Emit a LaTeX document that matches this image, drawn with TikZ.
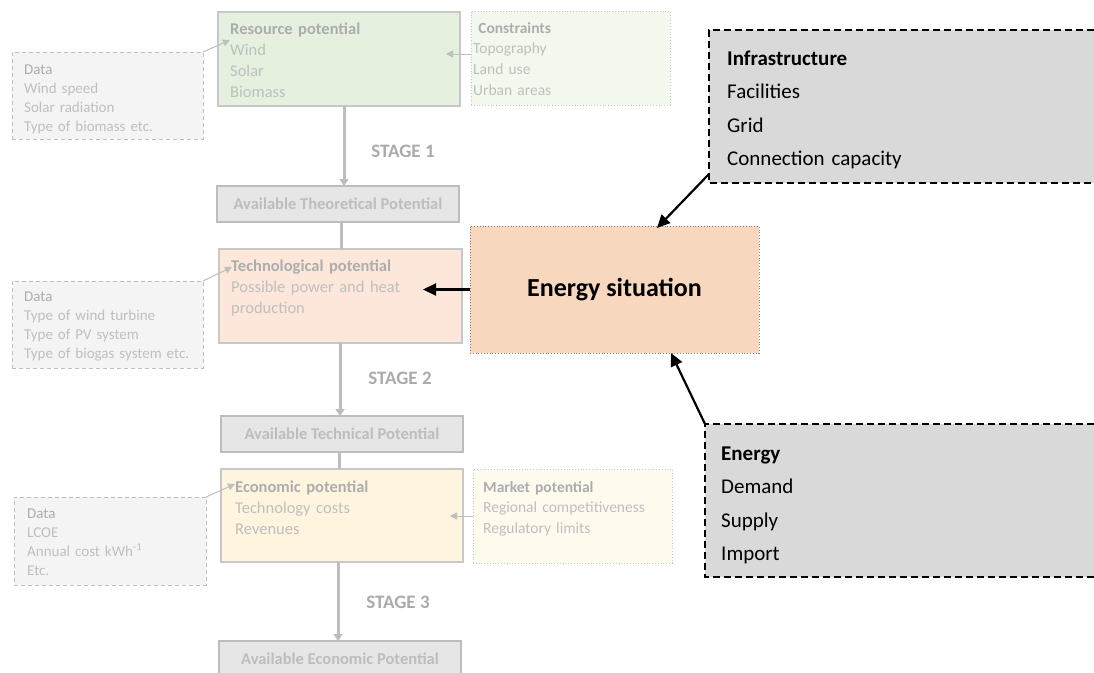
\documentclass[tikz,border=0pt]{standalone}
\usepackage{fontspec}
\setmainfont{Carlito}
\usetikzlibrary{arrows.meta}

\definecolor{headgray}{HTML}{ADADAD}
\definecolor{bodygray}{HTML}{BFBFBF}
\definecolor{stagegray}{HTML}{ABABAB}
\definecolor{edgegray}{HTML}{C8C8C8}
\definecolor{flowgray}{HTML}{BDBDBD}
\definecolor{resfill}{HTML}{E5F0DE}
\definecolor{consfill}{HTML}{F3F8EF}
\definecolor{techfill}{HTML}{FCE7DA}
\definecolor{sitfill}{HTML}{F8D7BF}
\definecolor{econfill}{HTML}{FFF5DF}
\definecolor{mktfill}{HTML}{FFFAEE}
\definecolor{datafill}{HTML}{F4F4F4}
\definecolor{availfill}{HTML}{E6E6E6}
\definecolor{infofill}{HTML}{D9D9D9}

\tikzset{
  box/.style={anchor=north west, inner sep=0pt, outer sep=0pt},
  stagebox/.style={box, draw=edgegray, line width=1.3pt},
  sidebox/.style={box, draw=edgegray, line width=0.8pt, dotted},
  databox/.style={box, fill=datafill, draw=bodygray, line width=0.9pt, dash pattern=on 4pt off 3pt},
  availbox/.style={box, fill=availfill, draw=flowgray, line width=2.5pt},
  infobox/.style={box, fill=infofill},
  infoedge/.style={draw=black, line width=1.3pt, dash pattern=on 7pt off 4pt},
  txt/.style={anchor=base west, inner sep=0pt, align=left, text width=#1},
  txt/.default=230pt,
  maintxt/.style={txt, font=\fontsize{16.5}{21}\selectfont, text=bodygray},
  sidetxt/.style={txt, font=\fontsize{15.5}{20.8}\selectfont, text=bodygray},
  datatxt/.style={txt, font=\fontsize{15}{19}\selectfont, text=bodygray},
  infotxt/.style={txt=360pt, font=\fontsize{21}{33.5}\selectfont, text=black},
  stagelbl/.style={font=\fontsize{19}{22}\selectfont\bfseries, text=stagegray, inner sep=0pt},
  availtxt/.style={font=\fontsize{16.5}{20}\selectfont\bfseries, text=flowgray, inner sep=0pt},
  flow/.style={draw=flowgray, line width=3pt},
  flowarrow/.style={flow, -{Triangle[length=7pt,width=9pt]}},
  thinarrow/.style={draw=bodygray, line width=1pt, -{Triangle[length=7pt,width=7pt]}},
  blackarrow/.style={draw=black, line width=2.2pt, -{Triangle[length=13pt,width=12pt]}},
}

\begin{document}
\begin{tikzpicture}[x=1pt, y=-1pt]
  \useasboundingbox (0,0) rectangle (1094,672);
  \clip (0,0) rectangle (1094,672);
  \fill[white] (0,0) rectangle (1094,672);

  % main chain of potentials
  \node[stagebox, fill=resfill, minimum width=242pt, minimum height=94pt] (res) at (218,12) {};
  \node[availbox, minimum width=242pt, minimum height=36pt] (avt) at (217,186) {};
  \node[stagebox, fill=techfill, minimum width=243pt, minimum height=94pt] (tech) at (219,249) {};
  \node[availbox, minimum width=242pt, minimum height=36pt] (avtech) at (221,416) {};
  \node[stagebox, fill=econfill, minimum width=242pt, minimum height=93pt] (econ) at (221,469) {};
  \node[availbox, minimum width=242pt, minimum height=37pt] (avecon) at (219,641) {};

  % side boxes
  \node[sidebox, fill=consfill, minimum width=199pt, minimum height=94pt] (cons) at (471,11) {};
  \node[sidebox, fill=mktfill, minimum width=199pt, minimum height=94pt] (mkt) at (473,469) {};
  \node[databox, minimum width=191pt, minimum height=87pt] (data1) at (12,52) {};
  \node[databox, minimum width=191pt, minimum height=87pt] (data2) at (12,281) {};
  \node[databox, minimum width=192pt, minimum height=88pt] (data3) at (14,497) {};

  % energy situation and its inputs (the grey boxes run past the right edge)
  \node[box, fill=sitfill, draw=gray, line width=0.8pt, dotted, minimum width=289pt, minimum height=127pt] (sit) at (470,226) {};
  \node[font=\fontsize{26}{30}\selectfont\bfseries, inner sep=0pt] (sitlbl) at (sit.center) {Energy situation};
  \node[infobox, minimum width=385pt, minimum height=153pt] (infra) at (709,30) {};
  \node[infobox, minimum width=389pt, minimum height=153pt] (enrg) at (705,424) {};
  \draw[infoedge] (infra.north east) -- (infra.north west) -- (infra.south west) -- (infra.south east);
  \draw[infoedge] (enrg.north east) -- (enrg.north west) -- (enrg.south west) -- (enrg.south east);

  % texts
  \node[maintxt] (restxt) at (230,34) {\textcolor{headgray}{\bfseries Resource potential}\\Wind\\Solar\\Biomass};
  \node[maintxt] (techtxt) at (231,271) {\textcolor{headgray}{\bfseries Technological potential}\\Possible power and heat\\production};
  \node[maintxt] (econtxt) at (235,492) {\textcolor{headgray}{\bfseries Economic potential}\\Technology costs\\Revenues};
  \node[sidetxt, txt=195pt] (constxt) at (473,33) {\textcolor{headgray}{\bfseries\ Constraints}\\Topography\\Land use\\Urban areas};
  \node[sidetxt, txt=195pt] (mkttxt) at (483,492) {\textcolor{headgray}{\bfseries Market potential}\\Regional competitiveness\\Regulatory limits};
  \node[datatxt, txt=180pt] (d1txt) at (24,74) {\textcolor{headgray}{Data}\\Wind speed\\Solar radiation\\Type of biomass etc.};
  \node[datatxt, txt=180pt] (d2txt) at (24,301) {\textcolor{headgray}{Data}\\Type of wind turbine\\Type of PV system\\Type of biogas system etc.};
  \node[datatxt, txt=180pt] (d3txt) at (27,518) {\textcolor{headgray}{Data}\\LCOE\\Annual cost kWh\textsuperscript{-1}\\Etc.};
  \node[infotxt] (infratxt) at (727,65) {\textbf{Infrastructure}\\Facilities\\Grid\\Connection capacity};
  \node[infotxt] (enrgtxt) at (721,460) {\textbf{Energy}\\Demand\\Supply\\Import};

  \node[availtxt] (avtlbl) at (avt.center) {Available Theoretical Potential};
  \node[availtxt] (avtechlbl) at (avtech.center) {Available Technical Potential};
  \node[availtxt] (aveconlbl) at ([yshift=1pt]avecon.center) {Available Economic Potential};

  \node[stagelbl] (st1) at (403,151) {STAGE 1};
  \node[stagelbl] (st2) at (400,378) {STAGE 2};
  \node[stagelbl] (st3) at (398,602) {STAGE 3};

  % stage flow
  \draw[flowarrow] ([xshift=5pt]res.south) -- ([xshift=6pt]avt.north);
  \draw[flow] ([xshift=3pt]avt.south) -- ([xshift=0.5pt]tech.north);
  \draw[flowarrow] ([xshift=-0.5pt]tech.south) -- ([xshift=-2pt]avtech.north);
  \draw[flow] ([xshift=-3pt]avtech.south) -- ([xshift=-3pt]econ.north);
  \draw[flowarrow] ([xshift=-4pt]econ.south) -- ([xshift=-2pt]avecon.north);

  % inputs to the potentials
  \coordinate (d1tip) at (230,40);
  \coordinate (d2tip) at (232,267);
  \coordinate (d3tip) at (235,484);
  \draw[thinarrow] (data1.north east) -- (d1tip);
  \draw[thinarrow] (data2.north east) -- (d2tip);
  \draw[thinarrow] (data3.north east) -- (d3tip);
  \draw[thinarrow] (cons.west |- 0,54) -- (446,54);
  \draw[thinarrow] (mkt.west |- 0,516) -- (450,516);

  % energy situation links
  \coordinate (techtip) at (423,289.5);
  \coordinate (sittop) at (657,228);
  \coordinate (sitbot) at (671,353);
  \draw[blackarrow] (sit.west) -- (techtip);
  \draw[blackarrow] (infra.south west |- 0,174) -- (sittop);
  \draw[blackarrow] (enrg.north west) -- (sitbot);
\end{tikzpicture}
\end{document}
